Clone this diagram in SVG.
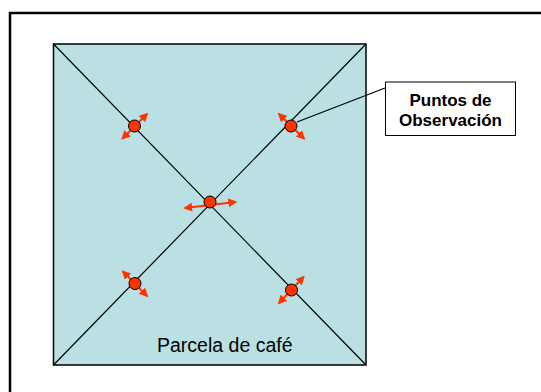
<svg xmlns="http://www.w3.org/2000/svg" width="541" height="392" viewBox="0 0 541 392">
<defs>
<style>
.frame{fill:#fff;stroke:#000;stroke-width:2.5}
.plot{fill:#bbe0e3;stroke:#000;stroke-width:1.5}
.diag{stroke:#000;stroke-width:1.2;fill:none}
.arr{stroke:#ff3300;stroke-width:2;fill:none;marker-start:url(#ah);marker-end:url(#ah)}
.dot{fill:#ff3300;stroke:#000;stroke-width:1}
.lbl{font-family:"Liberation Sans",Arial,sans-serif;font-weight:bold;font-size:17px;text-anchor:middle;fill:#000}
.plab{font-family:"Liberation Sans",Arial,sans-serif;font-size:19.5px;fill:#000}
</style>
<marker id="ah" viewBox="0 0 10 10" refX="8" refY="5" markerWidth="4.5" markerHeight="4.5" orient="auto-start-reverse" markerUnits="strokeWidth">
<path d="M0,0 L10,5 L0,10 z" fill="#ff3300"/>
</marker>
</defs>
<rect class="frame" x="10" y="13" width="540" height="390"/>
<g id="parcela">
<rect class="plot" x="53.5" y="44" width="312.5" height="321"/>
<text class="plab" x="157" y="352">Parcela de café</text>
</g>
<g id="connectors">
<line class="diag" x1="53.5" y1="44" x2="366" y2="365"/>
<line class="diag" x1="53.5" y1="365" x2="366" y2="44"/>
<line class="diag" x1="297" y1="122" x2="385" y2="88"/>
</g>
<g id="p1"><line class="arr" x1="122.5" y1="138.5" x2="147" y2="114"/><circle class="dot" cx="134.5" cy="126" r="6"/></g>
<g id="p2"><line class="arr" x1="279" y1="114" x2="304" y2="138.5"/><circle class="dot" cx="291" cy="126" r="6"/></g>
<g id="p3"><line class="arr" x1="185" y1="208" x2="235.5" y2="202"/><circle class="dot" cx="210" cy="202" r="6"/></g>
<g id="p4"><line class="arr" x1="123" y1="271.5" x2="147" y2="296"/><circle class="dot" cx="135" cy="283.5" r="6"/></g>
<g id="p5"><line class="arr" x1="279" y1="303" x2="303.5" y2="277"/><circle class="dot" cx="291.5" cy="290" r="6"/></g>
<g id="callout">
<rect x="385.5" y="82" width="130" height="53.5" fill="#fff" stroke="#000" stroke-width="1"/>
<text class="lbl" x="450.5" y="106">Puntos de</text>
<text class="lbl" x="450.5" y="125.5">Observación</text>
</g>
</svg>
